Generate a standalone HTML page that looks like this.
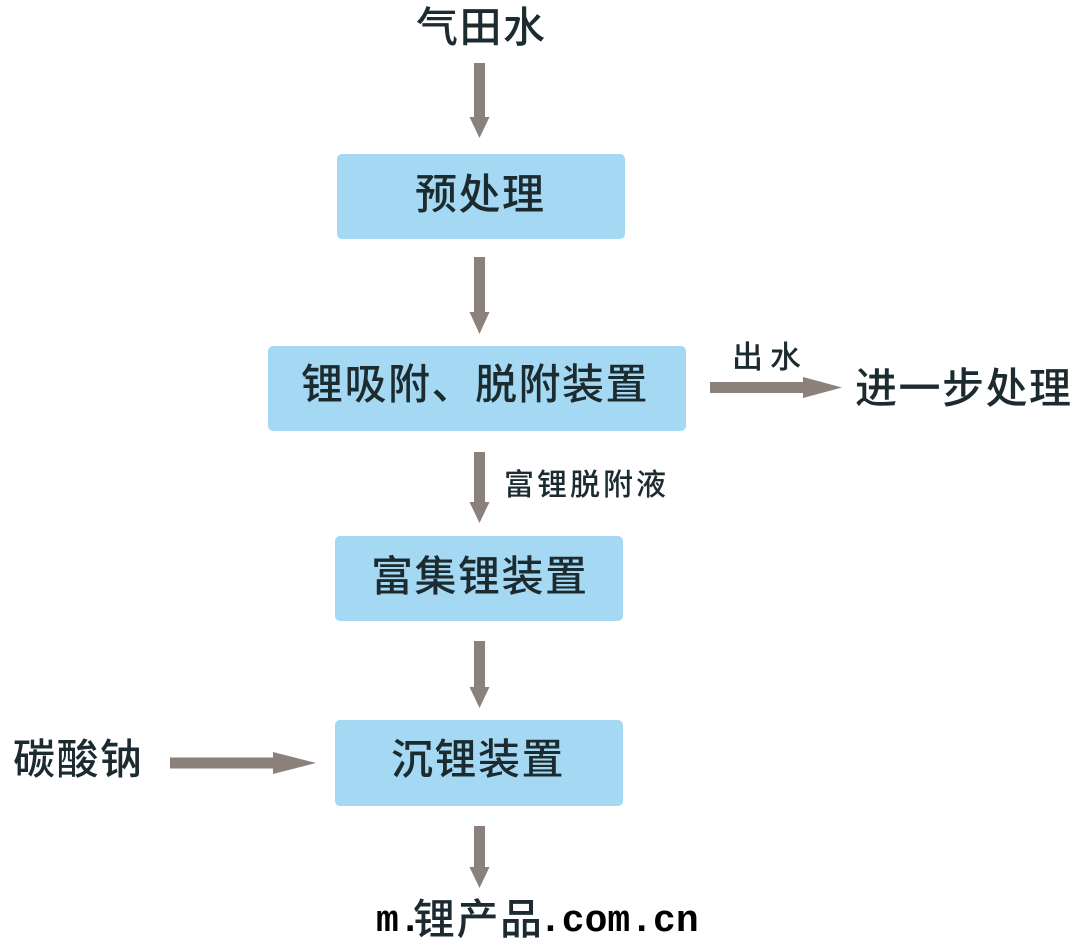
<!DOCTYPE html>
<html>
<head>
<meta charset="utf-8">
<style>
html,body{margin:0;padding:0;background:#ffffff;}
body{width:1080px;height:947px;position:relative;overflow:hidden;}
.t{position:absolute;white-space:nowrap;font-family:"Liberation Sans","Noto Sans CJK SC","WenQuanYi Zen Hei",sans-serif;font-weight:500;color:#1c2b30;font-size:42px;line-height:42px;height:42px;letter-spacing:1.5px;}
.box{position:absolute;background:#a5d9f3;border-radius:5px;}
.wm{position:absolute;white-space:nowrap;font-family:"Liberation Mono",monospace;font-weight:bold;color:#000;font-size:38px;line-height:38px;height:38px;}
svg{position:absolute;left:0;top:0;}
</style>
</head>
<body>
<div class="box" style="left:337px;top:154px;width:288px;height:85px;"></div>
<div class="box" style="left:268px;top:346px;width:418px;height:85px;"></div>
<div class="box" style="left:335px;top:536px;width:288px;height:85px;"></div>
<div class="box" style="left:335px;top:720px;width:288px;height:86px;"></div>

<svg width="1080" height="947" viewBox="0 0 1080 947">
  <g fill="#8c807a">
    <polygon points="474,63 485,63 485,117 489.5,117 479.5,138 469.5,117 474,117"/>
    <polygon points="474,257 485,257 485,312 489.5,312 479.5,334 469.5,312 474,312"/>
    <polygon points="474,452 485,452 485,502 489.5,502 479.5,523 469.5,502 474,502"/>
    <polygon points="474,641 485,641 485,687 489.5,687 479.5,708 469.5,687 474,687"/>
    <polygon points="474,826 485,826 485,867 489.5,867 479.5,888 469.5,867 474,867"/>
    <polygon points="710,382 803,382 803,377 842,387.5 803,398 803,393 710,393"/>
    <polygon points="170,757.5 273,757.5 273,752 316,763 273,774 273,768.5 170,768.5"/>
  </g>
</svg>

<div class="t" style="left:416px;top:7px;">气田水</div>
<div class="t" style="left:415px;top:174px;">预处理</div>
<div class="t" style="left:301px;top:364px;">锂吸附、脱附装置</div>
<div class="t" style="left:732px;top:342px;font-size:31px;line-height:31px;height:31px;letter-spacing:7px;">出水</div>
<div class="t" style="left:855px;top:368px;">进一步处理</div>
<div class="t" style="left:504px;top:471px;font-size:30px;line-height:30px;height:30px;letter-spacing:3px;">富锂脱附液</div>
<div class="t" style="left:371px;top:556px;">富集锂装置</div>
<div class="t" style="left:13px;top:739px;">碳酸钠</div>
<div class="t" style="left:391px;top:739px;">沉锂装置</div>

<div class="wm" style="left:376px;top:903px;">m.</div>
<div class="t" style="left:413px;top:899px;">锂产品</div>
<div class="wm" style="left:539px;top:903px;">.com.cn</div>
</body>
</html>
